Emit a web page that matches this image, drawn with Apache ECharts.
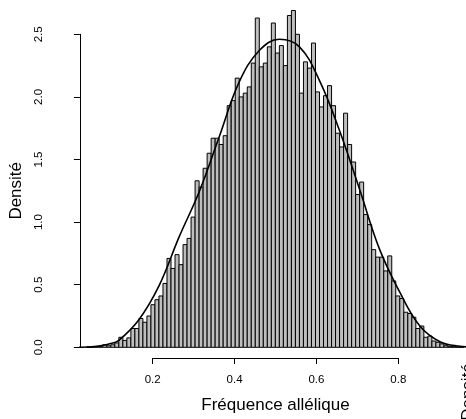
<!DOCTYPE html>
<html>
<head>
<meta charset="utf-8">
<script src="https://cdn.jsdelivr.net/npm/echarts@6.0.0/dist/echarts.min.js"></script>
<style>
  html, body { margin: 0; padding: 0; background: #fff; }
  #chart { width: 466px; height: 419px; }
</style>
</head>
<body>
<div id="chart"></div>
<script>
// histogramme : classes de largeur 0.01 a partir de 0.02
var binStart = 0.02;
var binWidth = 0.01;
var densities = [
  0.003, 0.003, 0.005, 0.008, 0.02, 0.012, 0.02, 0.035,
  0.08, 0.055, 0.075, 0.15, 0.15, 0.23, 0.2, 0.25, 0.34, 0.38,
  0.41, 0.51, 0.71, 0.63, 0.74, 0.66, 0.82, 0.87, 1.04, 1.33,
  1.28, 1.43, 1.55, 1.67, 1.67, 1.62, 1.69, 1.93, 1.97, 2.15,
  2.00, 2.03, 2.08, 2.27, 2.63, 2.24, 2.27, 2.40, 2.59, 2.35,
  2.41, 2.25, 2.65, 2.69, 2.50, 2.03, 2.28, 2.23, 2.43, 2.04,
  1.92, 2.01, 2.09, 1.93, 1.71, 1.60, 1.87, 1.62, 1.48, 1.22,
  1.32, 1.06, 0.98, 0.78, 0.72, 0.72, 0.61, 0.73, 0.53, 0.41,
  0.39, 0.28, 0.27, 0.24, 0.15, 0.17, 0.08, 0.09, 0.05, 0.04,
  0.027, 0.013, 0.008, 0.005, 0.003, 0.002
];

// courbe de densite
var curveX = [-0.01, 0.02, 0.05, 0.08, 0.10, 0.15, 0.20, 0.25, 0.30, 0.35, 0.40, 0.45,
              0.50, 0.55, 0.60, 0.65, 0.70, 0.75, 0.80, 0.85, 0.90, 0.95, 0.98];
var curveY = [0, 0.002, 0.01, 0.03, 0.055, 0.22, 0.49, 0.88, 1.24, 1.68, 2.12, 2.37,
              2.46, 2.40, 2.13, 1.73, 1.26, 0.78, 0.44, 0.17, 0.045, 0.008, 0.002];

var xTicks = [0.2, 0.4, 0.6, 0.8];
var yTicks = [0, 0.5, 1, 1.5, 2, 2.5];

var font = '"Liberation Sans", Arial, Helvetica, sans-serif';

var histData = densities.map(function (d, i) {
  return [binStart + i * binWidth, binStart + (i + 1) * binWidth, d];
});
var curveData = curveX.map(function (x, i) { return [x, curveY[i]]; });

var myChart = echarts.init(document.getElementById('chart'));

var option = {
  animation: false,
  backgroundColor: '#fff',
  textStyle: { fontFamily: font },
  grid: [
    { left: 72, width: 394, top: 34.3, height: 313 },
    // grille fantome pour l'axe x detache (0.2 -> 0.8)
    { left: 152.7, width: 245.6, top: 34.3, height: 313 }
  ],
  xAxis: [
    { gridIndex: 0, type: 'value', min: 0.003, max: 0.965, show: false },
    {
      gridIndex: 1, type: 'value', min: xTicks[0], max: xTicks[xTicks.length - 1], interval: 0.2,
      offset: 13.4,
      axisLine: { show: true, onZero: false, lineStyle: { color: '#000', width: 1 } },
      axisTick: { show: true, length: 6, lineStyle: { color: '#000' } },
      axisLabel: { color: '#000', fontSize: 11.5, margin: 16, fontFamily: font,
        formatter: function (v) { return v.toFixed(1); } },
      splitLine: { show: false },
      name: 'Fréquence allélique', nameLocation: 'middle', nameGap: 39,
      nameTextStyle: { color: '#000', fontSize: 17, fontFamily: font }
    }
  ],
  yAxis: [
    {
      gridIndex: 0, type: 'value', min: yTicks[0], max: yTicks[yTicks.length - 1], interval: 0.5,
      axisLine: { show: true, onZero: false, lineStyle: { color: '#000', width: 1 } },
      axisTick: { show: true, length: 6, lineStyle: { color: '#000' } },
      axisLabel: { color: '#000', fontSize: 11.5, margin: 35, rotate: 90, fontFamily: font,
        formatter: function (v) { return v.toFixed(1); } },
      splitLine: { show: false },
      name: 'Densité', nameLocation: 'middle', nameGap: 41,
      nameTextStyle: { color: '#000', fontSize: 17, fontFamily: font }
    },
    { gridIndex: 1, type: 'value', min: 0, max: 2.5, show: false }
  ],
  graphic: [{
    type: 'text', x: 468, y: 392, rotation: Math.PI / 2,
    style: { text: 'Densité', fill: '#000', font: '17px ' + font, align: 'center', verticalAlign: 'middle' }
  }],
  series: [
    {
      type: 'custom',
      xAxisIndex: 0, yAxisIndex: 0,
      data: histData,
      encode: { x: [0, 1], y: 2 },
      renderItem: function (params, api) {
        var p0 = api.coord([api.value(0), 0]);
        var p1 = api.coord([api.value(1), api.value(2)]);
        return {
          type: 'rect',
          shape: { x: p0[0], y: p1[1], width: p1[0] - p0[0], height: p0[1] - p1[1] },
          style: { fill: '#bebebe', stroke: '#000', lineWidth: 1 }
        };
      }
    },
    {
      type: 'line',
      xAxisIndex: 0, yAxisIndex: 0,
      data: curveData,
      smooth: 0.4,
      showSymbol: false,
      clip: true,
      lineStyle: { color: '#000', width: 1.6 }
    }
  ]
};

myChart.setOption(option);
</script>
</body>
</html>
